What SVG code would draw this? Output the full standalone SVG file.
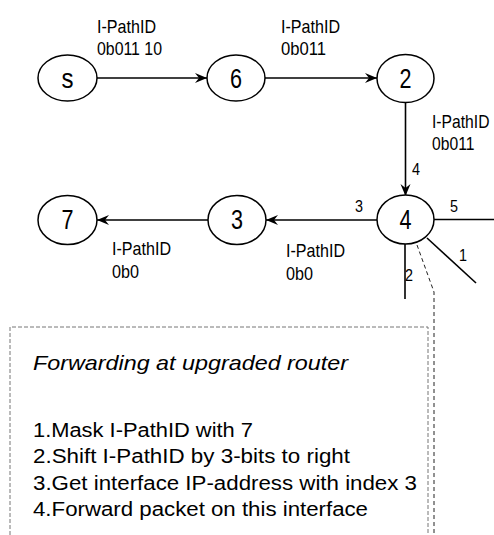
<svg xmlns="http://www.w3.org/2000/svg" width="494" height="535" viewBox="0 0 494 535">
  <style>
    .node ellipse { fill: #fff; stroke: #000; stroke-width: 1.5; }
    .node text { font-family: "Liberation Sans", Arial, sans-serif; font-size: 28px; text-anchor: middle; fill: #000; }
    .edge { stroke: #000; stroke-width: 1.6; fill: none; }
    .arrow { marker-end: url(#head); }
    .lbl { font-family: "Liberation Sans", Arial, sans-serif; font-size: 19px; fill: #000; }
    .lbl16 { font-family: "Liberation Sans", Arial, sans-serif; font-size: 16px; fill: #000; }
    .idx { font-family: "Liberation Sans", Arial, sans-serif; font-size: 16.5px; fill: #000; }
    .note { font-family: "Liberation Sans", Arial, sans-serif; font-size: 20px; fill: #000; }
    .title { font-family: "Liberation Sans", Arial, sans-serif; font-size: 21px; font-style: italic; fill: #000; }
  </style>
  <defs>
    <marker id="head" markerWidth="14" markerHeight="12" viewBox="-13 -6 14 12" refX="0" refY="0" orient="auto" markerUnits="userSpaceOnUse">
      <path d="M0,0 L-12,-5 L-8,0 L-12,5 Z" fill="#000"/>
    </marker>
  </defs>
  <rect width="494" height="535" fill="#fff"/>

  <!-- links -->
  <g id="connectors">
    <line class="edge arrow" x1="97" y1="78" x2="207" y2="78"/>
    <line class="edge arrow" x1="265" y1="78" x2="377" y2="78"/>
    <line class="edge arrow" x1="405.5" y1="102" x2="405.5" y2="196"/>
    <line class="edge arrow" x1="377" y1="220" x2="266" y2="220"/>
    <line class="edge arrow" x1="208" y1="220" x2="97" y2="220"/>
    <!-- other interfaces of router 4 -->
    <line class="edge" x1="434" y1="219.5" x2="494" y2="219.5"/>
    <line class="edge" x1="427" y1="238" x2="476" y2="283"/>
    <line class="edge" x1="405" y1="244" x2="405" y2="299"/>
    <!-- callout leader -->
    <path d="M417,245 L434,292 L434,535" fill="none" stroke="#222" stroke-width="1" stroke-dasharray="4,3"/>
  </g>

  <!-- link labels (condensed) -->
  <g id="edge-labels">
    <text class="lbl" x="97" y="33" textLength="59" lengthAdjust="spacingAndGlyphs">I-PathID</text>
    <text class="lbl" x="97" y="55" textLength="65" lengthAdjust="spacingAndGlyphs">0b011 10</text>
    <text class="lbl" x="281" y="33" textLength="59" lengthAdjust="spacingAndGlyphs">I-PathID</text>
    <text class="lbl" x="281" y="55" textLength="45" lengthAdjust="spacingAndGlyphs">0b011</text>
    <text class="lbl16" transform="translate(432,128) scale(0.98,1.18)">I-PathID</text>
    <text class="lbl16" transform="translate(432,150) scale(0.98,1.18)">0b011</text>
    <text class="lbl" x="286" y="257" textLength="59" lengthAdjust="spacingAndGlyphs">I-PathID</text>
    <text class="lbl" x="286" y="280" textLength="27" lengthAdjust="spacingAndGlyphs">0b0</text>
    <text class="lbl" x="112" y="255" textLength="59" lengthAdjust="spacingAndGlyphs">I-PathID</text>
    <text class="lbl" x="112" y="278" textLength="27" lengthAdjust="spacingAndGlyphs">0b0</text>
    <text class="idx" x="412" y="175" textLength="8" lengthAdjust="spacingAndGlyphs">4</text>
    <text class="idx" x="355" y="212" textLength="8" lengthAdjust="spacingAndGlyphs">3</text>
    <text class="idx" x="450" y="212" textLength="8" lengthAdjust="spacingAndGlyphs">5</text>
    <text class="idx" x="459" y="261" textLength="8" lengthAdjust="spacingAndGlyphs">1</text>
    <text class="idx" x="405" y="281" textLength="8" lengthAdjust="spacingAndGlyphs">2</text>
  </g>

  <g id="node-s" class="node">
    <ellipse cx="67.5" cy="78" rx="29.5" ry="23"/>
    <text x="67.5" y="88" textLength="12" lengthAdjust="spacingAndGlyphs">s</text>
  </g>
  <g id="node-6" class="node">
    <ellipse cx="236" cy="78" rx="29" ry="23"/>
    <text x="236" y="88" textLength="12" lengthAdjust="spacingAndGlyphs">6</text>
  </g>
  <g id="node-2" class="node">
    <ellipse cx="405.5" cy="78.5" rx="28.5" ry="24"/>
    <text x="405.5" y="88" textLength="12" lengthAdjust="spacingAndGlyphs">2</text>
  </g>
  <g id="node-4" class="node">
    <ellipse cx="405.5" cy="219.5" rx="28.5" ry="24.5"/>
    <text x="405.5" y="229" textLength="12" lengthAdjust="spacingAndGlyphs">4</text>
  </g>
  <g id="node-3" class="node">
    <ellipse cx="237" cy="220" rx="29" ry="24.5"/>
    <text x="237" y="229" textLength="12" lengthAdjust="spacingAndGlyphs">3</text>
  </g>
  <g id="node-7" class="node">
    <ellipse cx="67.5" cy="220" rx="29.5" ry="24.5"/>
    <text x="67.5" y="229" textLength="12" lengthAdjust="spacingAndGlyphs">7</text>
  </g>

  <!-- forwarding note -->
  <g id="note">
    <path d="M10,535 V327 H428 V535" fill="none" stroke="#777" stroke-width="1" stroke-dasharray="4,2"/>
    <text class="title" x="33" y="370" textLength="315" lengthAdjust="spacingAndGlyphs">Forwarding at upgraded router</text>
    <text class="note" x="33" y="437" textLength="220" lengthAdjust="spacingAndGlyphs">1.Mask I-PathID with 7</text>
    <text class="note" x="33" y="463" textLength="317" lengthAdjust="spacingAndGlyphs">2.Shift I-PathID by 3-bits to right</text>
    <text class="note" x="33" y="490" textLength="384" lengthAdjust="spacingAndGlyphs">3.Get interface IP-address with index 3</text>
    <text class="note" x="33" y="516" textLength="335" lengthAdjust="spacingAndGlyphs">4.Forward packet on this interface</text>
  </g>
</svg>
